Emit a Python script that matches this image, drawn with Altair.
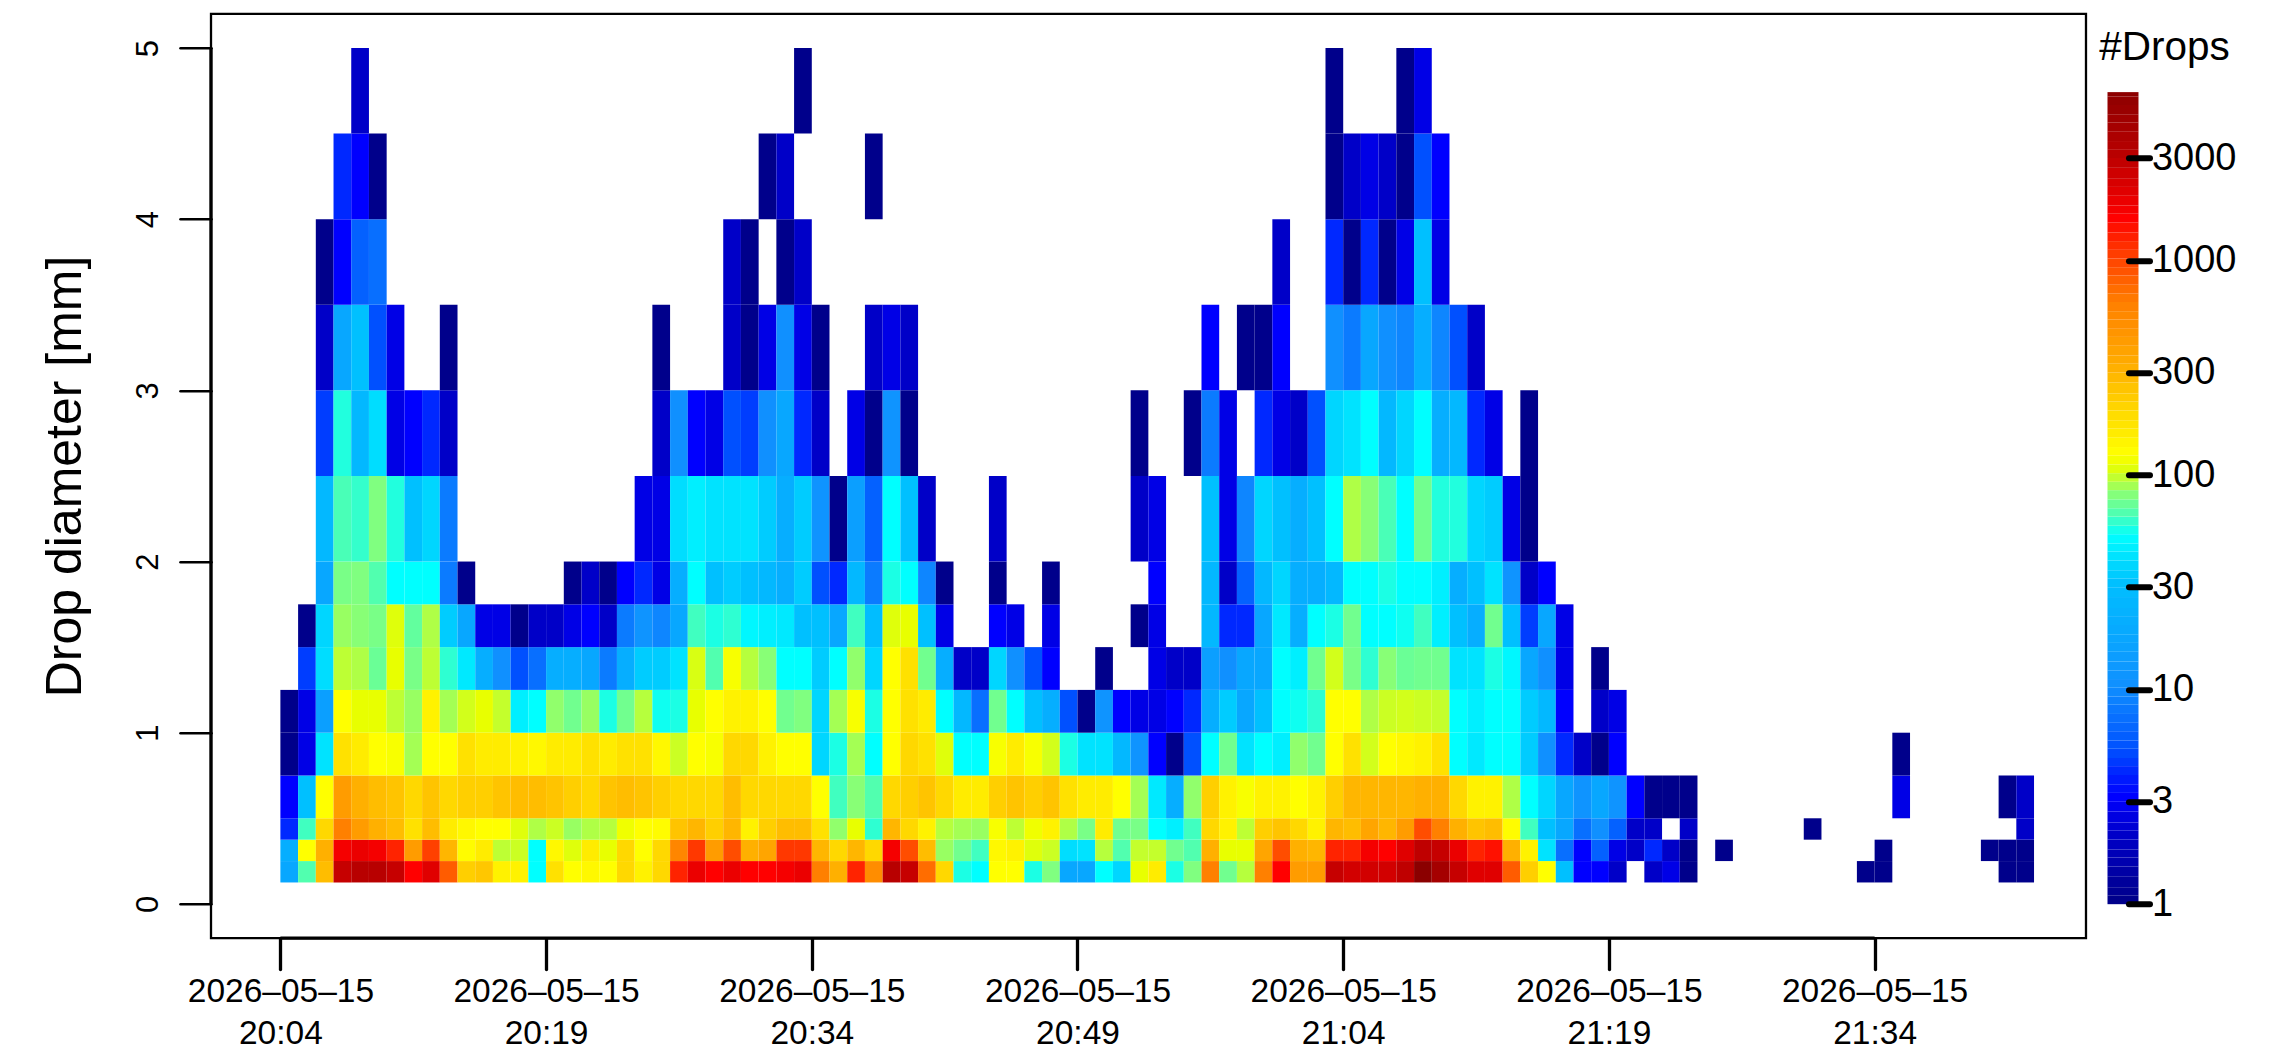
import altair as alt
import pandas as pd
from datetime import datetime, timedelta

N = None
FONT = "Liberation Sans"

# lower / upper edge of each diameter class (mm)
d_low = [0.125, 0.25, 0.375, 0.5, 0.75, 1.0, 1.25, 1.5, 1.75, 2.0, 2.5, 3.0, 3.5, 4.0, 4.5]
d_high = [0.25, 0.375, 0.5, 0.75, 1.0, 1.25, 1.5, 1.75, 2.0, 2.5, 3.0, 3.5, 4.0, 4.5, 5.0]

# drop counts per minute column, one list per diameter class
r00 = [17,64,260,2600,3000,3000,2600,1500,2000,800,210,230,140,140,50,170,120,130,120,190,140,190,1200,1800,1500,1800,1500,1500,1650,1800,600,300,1200,500,3000,2600,700,190,54,50,120,120,54,76,17,17,50,36,105,150,54,76,600,72,90,600,1500,400,400,2600,2300,2300,2300,2800,6000,4000,2600,2000,2000,800,210,120,30,3,3,2,N,2,2.5,1,*[N]*9,1,1,*[N]*6,1,1]
r01 = [20,120,300,1650,1800,1650,1200,400,1000,280,125,150,92,96,50,130,102,150,105,190,120,190,550,1050,400,900,300,350,1050,1050,280,190,280,190,1650,900,260,82,72,60,130,140,102,96,38,40,90,64,94,94,72,64,300,105,105,350,900,300,280,1200,1200,1650,1500,2000,2800,2600,1800,1200,1350,300,140,40,7,3,6,2.5,2,4,2,1,N,1,*[N]*8,1,*[N]*5,1,1,1]
r02 = [4,60,190,600,400,300,260,170,260,150,130,120,120,102,88,96,82,88,90,110,120,125,240,280,210,280,140,210,260,260,170,80,105,57,280,190,140,90,85,82,115,92,110,140,88,74,150,72,74,50,44,60,190,140,92,210,240,190,140,280,260,350,280,400,900,600,300,240,260,125,60,30,17,7,10,6,2,2,N,2,*[N]*6,1,*[N]*11,2]
r03 = [3,30,120,400,300,260,240,190,240,190,210,210,240,260,260,240,210,190,240,260,240,210,190,190,190,260,190,190,190,190,120,60,78,64,190,210,240,190,150,150,210,240,210,240,170,150,150,120,85,42,20,80,210,140,115,140,140,120,140,210,280,280,280,280,300,300,190,140,140,88,50,36,17,11,17,11,3,1,1,1,*[N]*11,2.5,*[N]*5,1,2]
r04 = [1,2.5,40,170,150,120,115,85,120,120,170,150,150,140,130,150,150,170,150,170,170,130,96,120,115,190,190,140,120,120,36,54,85,50,120,190,170,102,50,50,115,150,115,98,54,40,40,25,11,3,1,5,50,72,40,50,44,80,72,120,170,98,120,130,140,170,50,42,50,50,33,10,4,2,1,3,*[N]*15,1,*[N]*7]
r05 = [1,2.5,14,120,105,105,92,82,140,85,98,105,94,44,50,80,72,82,54,72,90,52,54,105,120,140,140,120,72,76,36,85,115,54,120,170,150,50,25,7,72,50,30,20,5,1,11,3,2.5,2.5,3,4,20,33,17,30,50,52,57,120,120,88,96,98,96,94,50,44,50,50,33,25,3,N,2,2.5,*[N]*23]
r06 = [N,4.5,38,92,88,70,105,74,92,57,42,20,10,5,7,20,20,17,8,20,33,33,40,100,64,115,90,78,50,50,33,50,80,36,120,170,72,20,2,2,36,10,5,3,N,N,1,N,N,2.5,2,2,14,10,17,17,50,44,72,98,74,57,78,70,72,72,40,40,54,47,17,10,2.5,N,1,*[N]*24]
r07 = [N,1,36,82,78,74,102,68,88,33,17,2.5,2.5,1,2,2,2.5,3,2,8,11,9,17,60,54,57,47,44,42,30,30,17,60,28,102,105,30,2.5,N,N,3,2.5,N,2.5,N,N,N,N,1,2.5,N,N,25,4,4,17,42,20,50,54,72,50,50,52,60,44,30,20,72,30,4.5,17,2.5,*[N]*26]
r08 = [N,N,17,74,76,64,50,50,50,8,1,*[N]*5,1,2,1,3,4,2.5,20,50,30,33,30,25,20,33,5,4,25,8,54,50,9,1,N,N,1,N,N,1,*[N]*5,3,N,N,25,2,6,25,36,20,20,25,50,50,54,50,50,44,20,30,40,11,2,3,*[N]*27]
r09 = [N,N,25,62,58,76,55,30,36,8,*[N]*10,2.5,2.5,38,44,40,40,40,33,20,33,11,1,14,6,50,30,2,N,N,N,2,*[N]*7,2,2.5,N,N,30,2.5,9,36,30,20,30,50,88,78,62,50,72,55,55,36,33,2.5,1,*[N]*28]
r10 = [N,N,4.5,55,25,38,2.5,3,4,2,*[N]*11,2,10,3,2.5,5,4.5,10,17,4,2,N,2.5,1,11,1,*[N]*12,1,N,N,1,8,2.5,N,4,2.5,2,5,36,40,50,25,36,50,20,25,4,2.5,N,1,*[N]*28]
r11 = [N,N,2,17,30,5,2.5,N,N,1,*[N]*11,1,N,N,N,2,1,2.5,10,2.5,1,N,N,2,2.5,2,*[N]*16,3,N,1,1,3,N,N,10,8,17,10,9,20,9,5,2,*[N]*31]
r12 = [N,N,1,3,6,7,*[N]*19,2,1,N,1,2,*[N]*26,2,N,N,4,1,4,1,2.5,30,2.5,*[N]*33]
r13 = [N,N,N,4,3,1,*[N]*21,1,2,*[N]*4,1,*[N]*25,1,2,2.5,2,1,5,3,*[N]*33]
r14 = [N,N,N,N,2,*[N]*24,1,*[N]*29,1,N,N,N,1,2.5,*[N]*34]
rows = [r00, r01, r02, r03, r04, r05, r06, r07, r08, r09, r10, r11, r12, r13, r14]
for r in rows:
    assert len(r) == 99, len(r)

start_minute = datetime(2026, 5, 15, 20, 4)

x_tick_minutes = [(20, 4), (20, 19), (20, 34), (20, 49), (21, 4), (21, 19), (21, 34)]
y_ticks = [0, 1, 2, 3, 4, 5]
bar_ticks = [1, 3, 10, 30, 100, 300, 1000, 3000]

color_domain = [1, 2, 3, 4, 5, 10, 30, 50, 60, 76, 105, 120, 190, 300, 600, 1000, 1500, 2000, 3000, 6000]
color_range = ["#00008b", "#0000c8", "#0000ff", "#0028ff", "#0050ff", "#1090ff", "#00c0ff", "#00ffff",
               "#40ffc0", "#80ff80", "#e8ff00", "#ffff00", "#ffd800", "#ffb000", "#ff8000", "#ff4000",
               "#ff0000", "#e00000", "#b80000", "#8b0000"]

bar_levels = [1,1.1,1.2,1.35,1.5,1.65,1.8,2,2.2,2.4,2.7,3,3.3,3.6,4,4.4,4.8,5.3,5.8,6.4,7,7.7,8.5,9.3,10.2,11.2,12.3,13.5,15,16.5,18,20,22,24,27,30,33,36,40,44,48,53,58,64,70,77,85,93,102,112,123,135,150,165,180,200,220,240,270,300,330,360,400,440,480,530,580,640,700,770,850,930,1020,1120,1230,1350,1500,1650,1800,2000,2200,2400,2700,3000,3300,3600,4000,4400,4800,5300,5800,6085]

records = []
for lo, hi, r in zip(d_low, d_high, rows):
    for i, v in enumerate(r):
        if v is not None:
            t0 = start_minute + timedelta(minutes=i)
            t1 = t0 + timedelta(minutes=1)
            records.append({"t0": t0.isoformat(), "t1": t1.isoformat(), "lo": lo, "hi": hi, "n": v})
cells = pd.DataFrame(records)

color_scale = alt.Scale(type="log", domain=color_domain, range=color_range, interpolate="rgb")
W, H = 1875, 924.3

x_scale = alt.Scale(domain=[alt.DateTime(year=2026, month=5, date=15, hours=20, minutes=0, seconds=5),
                            alt.DateTime(year=2026, month=5, date=15, hours=21, minutes=45, seconds=56)])
y_scale = alt.Scale(domain=[-0.2, 5.2], nice=False, zero=False)

x_axis = alt.Axis(
    values=[alt.DateTime(year=2026, month=5, date=15, hours=h, minutes=m) for h, m in x_tick_minutes],
    labelExpr="[timeFormat(datum.value, '%Y\u2013%m\u2013%d'), timeFormat(datum.value, '%H:%M')]",
    title=None, grid=False, domain=False, tickSize=31, tickWidth=3.3, tickCap="round", tickColor="black",
    labelFont=FONT, labelFontSize=33.5, labelLineHeight=42, labelColor="black", labelPadding=6, labelLimit=0,
    labelOverlap=False, labelFlush=False, labelBound=False, labelAngle=0, labelBaseline="top",
)
y_axis = alt.Axis(
    values=y_ticks, title="Drop diameter [mm]", grid=False, domain=False, tickSize=31, tickWidth=2.6,
    tickCap="round", tickColor="black", labelFont=FONT, labelFontSize=31, labelColor="black", labelAngle=-90,
    labelAlign="center", labelBaseline="bottom", labelPadding=16, labelOverlap=False, labelBound=False, labelFlush=False,
    titleFont=FONT, titleFontSize=50, titleFontWeight="normal", titleColor="black", titlePadding=42,
)

heat = alt.Chart(cells).mark_rect().encode(
    x=alt.X("t0:T", scale=x_scale, axis=x_axis),
    x2="t1:T",
    y=alt.Y("lo:Q", scale=y_scale, axis=y_axis),
    y2="hi:Q",
    color=alt.Color("n:Q", scale=color_scale, legend=None),
)

x_line_df = pd.DataFrame({"a": ["2026-05-15T20:04:00"], "b": ["2026-05-15T21:34:00"]})
x_line = alt.Chart(x_line_df).mark_rule(color="black", strokeWidth=3.3).encode(
    x=alt.X("a:T", scale=x_scale, axis=x_axis), x2="b:T", y=alt.value(H))
y_line_df = pd.DataFrame({"a": [y_ticks[0]], "b": [y_ticks[-1]]})
y_line = alt.Chart(y_line_df).mark_rule(color="black", strokeWidth=3.3).encode(
    y=alt.Y("a:Q", scale=y_scale, axis=y_axis), y2="b:Q", x=alt.value(0))

main = alt.layer(heat, x_line, y_line).properties(
    width=W, height=H, view=alt.ViewConfig(stroke="black", strokeWidth=2.3))

bar_df = pd.DataFrame({"lo": bar_levels[:-1], "hi": bar_levels[1:]})
bar_y_scale = alt.Scale(type="log", domain=[0.695, 14100], nice=False)
bar_axis = alt.Axis(
    orient="right", values=bar_ticks, format="d", title=None, grid=False, domain=False, offset=-10,
    tickSize=21, tickWidth=6, tickCap="round", tickColor="black", labelFont=FONT, labelFontSize=38,
    labelColor="black", labelPadding=2, labelOverlap=False, labelBound=False, labelFlush=False, zindex=1,
)
bar = alt.Chart(bar_df).mark_rect().encode(
    x=alt.value(0), x2=alt.value(31),
    y=alt.Y("lo:Q", scale=bar_y_scale, axis=bar_axis),
    y2="hi:Q",
    color=alt.Color("lo:Q", scale=color_scale, legend=None),
)
bar_title = alt.Chart(pd.DataFrame({"t": ["#Drops"]})).mark_text(
    font=FONT, fontSize=40.5, color="black", align="center", baseline="alphabetic"
).encode(x=alt.value(57), y=alt.value(46), text="t:N")
side = alt.layer(bar, bar_title).properties(
    width=31, height=H, view=alt.ViewConfig(strokeWidth=0))

chart = alt.hconcat(main, side, spacing=10.5).resolve_scale(color="independent").properties(
    padding={"left": 30, "top": 3.8, "right": 0, "bottom": 0},
    background="white",
)
chart.save("out.html", embed_options={"renderer": "svg", "actions": False})
